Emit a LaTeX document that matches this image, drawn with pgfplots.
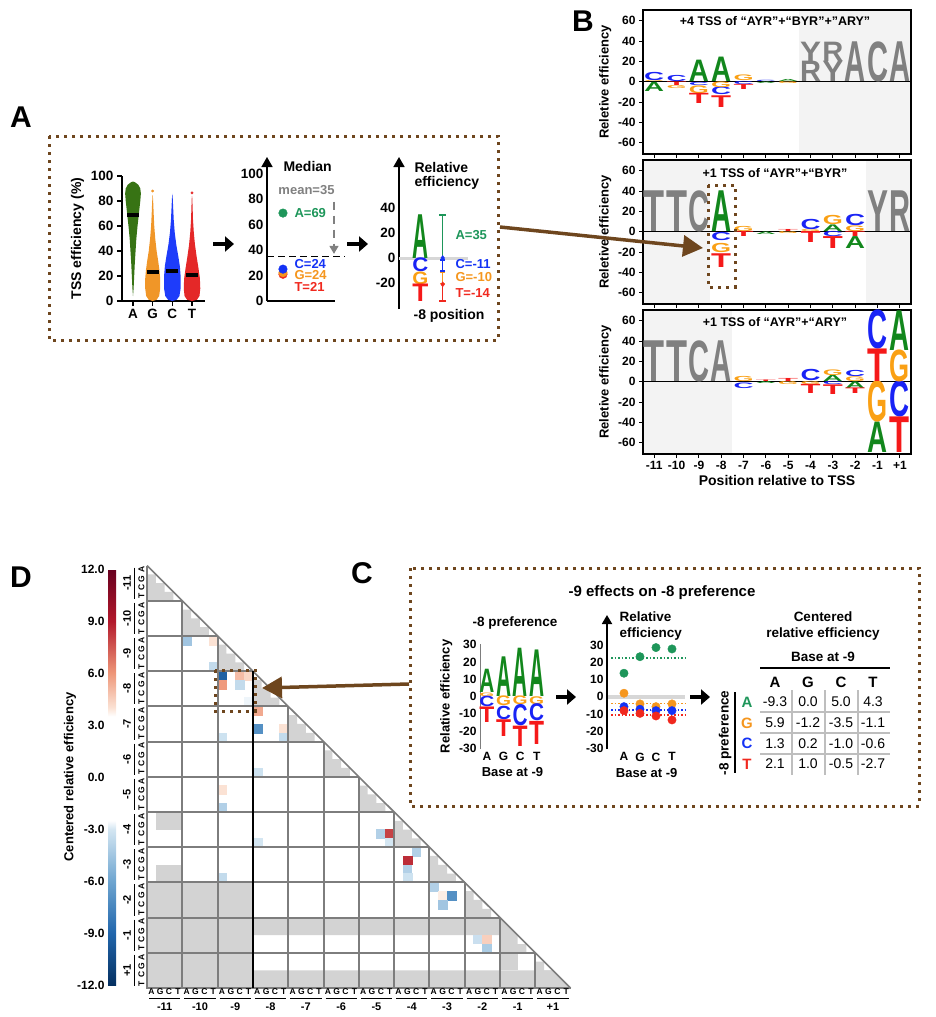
\documentclass[border=0pt]{standalone}
\usepackage{pgfplots}
\pgfplotsset{compat=1.18}
\usepackage{graphicx}
\usepackage{fontspec}
\setmainfont{Liberation Sans}
\usetikzlibrary{arrows.meta}

\definecolor{lgA}{RGB}{18,135,28}
\definecolor{lgG}{RGB}{250,160,20}
\definecolor{lgC}{RGB}{25,35,245}
\definecolor{lgT}{RGB}{245,25,25}
\definecolor{lgN}{RGB}{128,128,128}
\definecolor{vA}{RGB}{55,115,20}
\definecolor{vG}{RGB}{240,150,40}
\definecolor{vC}{RGB}{30,60,250}
\definecolor{vT}{RGB}{228,40,40}
\definecolor{dA}{RGB}{30,150,90}
\definecolor{dG}{RGB}{245,150,30}
\definecolor{dC}{RGB}{20,50,245}
\definecolor{dT}{RGB}{240,40,30}
\definecolor{brn}{RGB}{110,70,30}
\definecolor{shade}{RGB}{243,243,243}
\definecolor{hmgray}{RGB}{211,211,211}
\definecolor{gridg}{RGB}{125,125,125}
\definecolor{zl}{RGB}{215,215,215}
\definecolor{tabg}{RGB}{190,190,190}

\newcommand{\fs}[1]{\fontsize{#1}{#1}\selectfont}

\pgfplotsset{
  every axis/.append style={scale only axis, anchor=south west,
    tick label style={font=\bfseries\fs{12}},
    label style={font=\bfseries\fs{13}},
    /pgf/number format/assume math mode=true},
  % one sequence-logo letter per row: x, bottom y, height h
  logo/.style n args={4}{scatter, only marks, mark=*, mark size=0pt,
    visualization depends on={#3*\thisrow{h}\as\hpt},
    scatter/@pre marker code/.code={%
      \node[inner sep=0pt,outer sep=0pt,anchor=south,text=#1] at (0pt,0pt)
        {\resizebox{#4}{\hpt pt}{\bfseries #2}};%
      \scope[opacity=0]},
    scatter/@post marker code/.code={\endscope}},
  bpanel/.style={width=268pt, height=144pt, xmin=-0.5, xmax=11.5, ymin=-71, ymax=70.5,
    axis on top, axis line style={line width=1.4pt}, xtick={0,...,11}, ytick={-60,-40,...,60},
    tick pos=left, tick align=outside, tick style={black, line width=1pt},
    major tick length=4pt, ylabel={Reletive efficiency}},
}
\tikzset{brbox/.style={brn, line width=3pt, dash pattern=on 3pt off 5pt}}

\begin{document}
\begin{tikzpicture}
\useasboundingbox (0pt,0pt) rectangle (935pt,-1017pt);

% ================= A: violins
\begin{axis}[at={(122pt,-301pt)}, width=83pt, height=125pt,
  xmin=0.44, xmax=4.66, ymin=0, ymax=100,
  axis x line=bottom, axis y line=left, axis line style={-, line width=1.6pt},
  xtick={1,2,3,4}, xticklabels={A,G,C,T}, ytick={0,20,...,100},
  tick align=outside, tick style={black, line width=1.6pt}, major tick length=5pt,
  tick label style={font=\bfseries\fs{13.5}},
  ylabel={TSS efficiency (\%)}, label style={font=\bfseries\fs{14}}, clip=false]
\addplot[fill=vA, draw=none] coordinates {(1,4) (1.03,10) (1.06,20) (1.09,30) (1.13,40) (1.17,50) (1.23,60) (1.30,70) (1.37,80) (1.40,86) (1.37,90) (1.27,93) (1.10,95) (1,95.6) (0.90,95) (0.73,93) (0.63,90) (0.60,86) (0.63,80) (0.70,70) (0.77,60) (0.83,50) (0.87,40) (0.91,30) (0.94,20) (0.97,10)} -- cycle;
\addplot[fill=vG, draw=none] coordinates {(2,0) (2.2,1) (2.33,4) (2.38,10) (2.38,18) (2.34,25) (2.28,32) (2.2,40) (2.13,50) (2.08,60) (2.05,70) (2.03,78) (2.01,84) (2,85) (1.99,84) (1.97,78) (1.95,70) (1.92,60) (1.87,50) (1.8,40) (1.72,32) (1.66,25) (1.62,18) (1.62,10) (1.67,4) (1.8,1)} -- cycle;
\addplot[fill=vC, draw=none] coordinates {(3,0) (3.22,1) (3.36,4) (3.42,10) (3.42,20) (3.38,28) (3.3,36) (3.2,45) (3.12,55) (3.07,65) (3.04,75) (3.02,82) (3,86) (2.98,82) (2.96,75) (2.93,65) (2.88,55) (2.8,45) (2.7,36) (2.62,28) (2.58,20) (2.58,10) (2.64,4) (2.78,1)} -- cycle;
\addplot[fill=vT, draw=none] coordinates {(4,0) (4.25,1) (4.38,4) (4.42,10) (4.4,18) (4.33,26) (4.24,35) (4.15,45) (4.09,55) (4.05,65) (4.03,75) (4.015,82) (4,84) (3.985,82) (3.97,75) (3.95,65) (3.91,55) (3.85,45) (3.76,35) (3.67,26) (3.6,18) (3.58,10) (3.62,4) (3.75,1)} -- cycle;
\addplot[only marks, mark=*, mark size=1.2pt, vG] coordinates {(2,88)};
\addplot[only marks, mark=*, mark size=1.2pt, vT] coordinates {(4,86.5)};
\addplot[black, line width=4pt] coordinates {(0.69,69) (1.31,69)};
\addplot[black, line width=4pt] coordinates {(1.69,23.5) (2.31,23.5)};
\addplot[black, line width=4pt] coordinates {(2.69,24.3) (3.31,24.3)};
\addplot[black, line width=4pt] coordinates {(3.69,21) (4.31,21)};
\end{axis}

% ================= A: medians
\begin{axis}[at={(267pt,-301pt)}, width=68pt, height=144pt,
  xmin=0, xmax=1, ymin=0, ymax=113,
  axis x line=bottom, axis y line=left, x axis line style={-, line width=1.6pt},
  y axis line style={line width=1.6pt, -{Triangle[length=10pt,width=11pt]}},
  xtick=\empty, ytick={0,20,...,100}, major tick length=0pt,
  tick label style={font=\bfseries\fs{13.5}}, clip=false]
\addplot[black, line width=1.3pt, dash pattern=on 7pt off 4pt] coordinates {(0,35) (1.15,35)};
\addplot[lgN, line width=1.5pt, dash pattern=on 8pt off 6pt, -{Triangle[length=8pt,width=9pt]}] coordinates {(0.985,78) (0.985,37)};
\addplot[only marks, mark=*, mark size=4.3pt, dA] coordinates {(0.235,69)};
\addplot[only marks, mark=*, mark size=4.3pt, dT] coordinates {(0.235,21)};
\addplot[only marks, mark=*, mark size=4.3pt, dG] coordinates {(0.235,22.3)};
\addplot[only marks, mark=*, mark size=4.3pt, dC] coordinates {(0.235,25)};
\end{axis}

% ================= A: relative efficiency
\begin{axis}[at={(399pt,-309pt)}, width=70pt, height=152pt,
  xmin=0, xmax=1, ymin=-40.8, ymax=80.8,
  axis x line=none, axis y line=left,
  y axis line style={line width=1.6pt, -{Triangle[length=10pt,width=11pt]}},
  ytick={-20,0,20,40}, major tick length=0pt,
  tick label style={font=\bfseries\fs{13.5}}, clip=false]
\addplot[zl, line width=3pt] coordinates {(0,0) (0.99,0)};
\addplot[logo={lgA}{A}{1.25}{16pt}] table[row sep=\\]{x y h\\ 0.307 0 35\\};
\addplot[logo={lgC}{C}{1.25}{16pt}] table[row sep=\\]{x y h\\ 0.307 -11 11\\};
\addplot[logo={lgG}{G}{1.25}{16pt}] table[row sep=\\]{x y h\\ 0.307 -21 10\\};
\addplot[logo={lgT}{T}{1.25}{16pt}] table[row sep=\\]{x y h\\ 0.307 -35 14\\};
\addplot[dA, line width=1.3pt, -{Bar[width=7pt]}] coordinates {(0.624,0) (0.624,35)};
\addplot[dC, line width=1.3pt, {Bar[width=5pt]}-{Bar[width=5pt]}] coordinates {(0.624,-1) (0.624,-11)};
\addplot[dG, line width=1.3pt, {Bar[width=5pt]}-{Bar[width=5pt]}] coordinates {(0.624,-11) (0.624,-21)};
\addplot[dT, line width=1.3pt, -{Bar[width=7pt]}] coordinates {(0.624,-21) (0.624,-35)};
\addplot[only marks, mark=diamond*, mark size=2.5pt, dC] coordinates {(0.624,0)};
\addplot[only marks, mark=diamond*, mark size=2.5pt, dT] coordinates {(0.624,-21)};
\end{axis}

% ================= B panels
\begin{axis}[bpanel, at={(643pt,-154pt)}, xticklabels={}]
\addplot[fill=shade, draw=none] coordinates {(6.5,-71) (11.5,-71) (11.5,70.5) (6.5,70.5)} -- cycle;
\addplot[black, line width=1pt] coordinates {(-0.5,0) (11.5,0)};
\addplot[logo={lgN}{Y}{1.0177}{21pt}] table[row sep=\\]{x y h\\ 7 20 19\\ 8 0 20\\};
\addplot[logo={lgN}{R}{1.0177}{21pt}] table[row sep=\\]{x y h\\ 7 0 20\\ 8 20 19\\};
\addplot[logo={lgN}{A}{1.0177}{21pt}] table[row sep=\\]{x y h\\ 9 0 39\\ 11 0 39\\};
\addplot[logo={lgN}{C}{1.0177}{21pt}] table[row sep=\\]{x y h\\ 10 0 39\\};
\addplot[logo={lgA}{A}{1.0177}{20pt}] table[row sep=\\]{x y h\\ 0 -10 9\\ 2 0 21\\ 3 0 24\\ 6 0 2\\ 5 -1.5 1.5\\};
\addplot[logo={lgC}{C}{1.0177}{20pt}] table[row sep=\\]{x y h\\ 0 1 8\\ 1 0 6\\ 2 -4 3\\ 3 -13 7.5\\ 4 -3 3\\ 5 0 1.2\\};
\addplot[logo={lgG}{G}{1.0177}{20pt}] table[row sep=\\]{x y h\\ 0 0 1\\ 1 -6.5 3\\ 2 -11.5 7.5\\ 3 -5.5 5.5\\ 4 1 5.5\\ 6 -2 2\\};
\addplot[logo={lgT}{T}{1.0177}{20pt}] table[row sep=\\]{x y h\\ 1 -3.5 3.5\\ 2 -21.5 10\\ 3 -25 11.5\\ 4 -8 5\\};
\end{axis}

\begin{axis}[bpanel, at={(643pt,-304pt)}, xticklabels={}]
\addplot[fill=shade, draw=none] coordinates {(-0.5,-71) (2.5,-71) (2.5,70.5) (-0.5,70.5)} -- cycle;
\addplot[fill=shade, draw=none] coordinates {(9.5,-71) (11.5,-71) (11.5,70.5) (9.5,70.5)} -- cycle;
\addplot[black, line width=1pt] coordinates {(-0.5,0) (11.5,0)};
\addplot[logo={lgN}{T}{1.0177}{21pt}] table[row sep=\\]{x y h\\ 0 0 40\\ 1 0 40\\};
\addplot[logo={lgN}{C}{1.0177}{21pt}] table[row sep=\\]{x y h\\ 2 0 40\\};
\addplot[logo={lgN}{Y}{1.0177}{21pt}] table[row sep=\\]{x y h\\ 10 0 40\\};
\addplot[logo={lgN}{R}{1.0177}{21pt}] table[row sep=\\]{x y h\\ 11 0 40\\};
\addplot[logo={lgA}{A}{1.0177}{20pt}] table[row sep=\\]{x y h\\ 3 0 40\\ 5 -2.5 2.5\\ 8 0.5 6.5\\ 9 -16.7 11.7\\};
\addplot[logo={lgC}{C}{1.0177}{20pt}] table[row sep=\\]{x y h\\ 3 -9 8\\ 7 2 10\\ 8 -5 5\\ 9 6 11\\};
\addplot[logo={lgG}{G}{1.0177}{20pt}] table[row sep=\\]{x y h\\ 3 -20.6 9\\ 4 0.6 5\\ 6 -2 2\\ 7 0 2\\ 8 7 9\\ 9 0.5 5.5\\};
\addplot[logo={lgT}{T}{1.0177}{20pt}] table[row sep=\\]{x y h\\ 3 -35 13.5\\ 4 -5 5\\ 6 0 2\\ 7 -10.8 10.8\\ 8 -16.7 11.7\\ 9 -5 5\\};
\end{axis}

\begin{axis}[bpanel, at={(643pt,-454pt)},
  xticklabels={-11,-10,-9,-8,-7,-6,-5,-4,-3,-2,-1,+1},
  xlabel={Position relative to TSS}, xlabel style={font=\bfseries\fs{14}, yshift=2pt}]
\addplot[fill=shade, draw=none] coordinates {(-0.5,-71) (3.5,-71) (3.5,70.5) (-0.5,70.5)} -- cycle;
\addplot[black, line width=1pt] coordinates {(-0.5,0) (11.5,0)};
\addplot[logo={lgN}{T}{1.0177}{21pt}] table[row sep=\\]{x y h\\ 0 0 40\\ 1 0 40\\};
\addplot[logo={lgN}{C}{1.0177}{21pt}] table[row sep=\\]{x y h\\ 2 0 40\\};
\addplot[logo={lgN}{A}{1.0177}{21pt}] table[row sep=\\]{x y h\\ 3 0 40\\};
\addplot[logo={lgA}{A}{1.0177}{20pt}] table[row sep=\\]{x y h\\ 5 -2 2\\ 8 0.6 6\\ 9 -6.5 6.5\\ 10 -70 30\\ 11 31 39\\};
\addplot[logo={lgC}{C}{1.0177}{20pt}] table[row sep=\\]{x y h\\ 4 -6.5 5.5\\ 7 0.6 11\\ 8 -3 3\\ 9 5.5 6\\ 10 32 38\\ 11 -35 35\\};
\addplot[logo={lgG}{G}{1.0177}{20pt}] table[row sep=\\]{x y h\\ 4 0.3 5\\ 6 -3 3\\ 7 -3 3\\ 8 6.5 5.5\\ 9 0.6 4.6\\ 10 -40 40\\ 11 0 31\\};
\addplot[logo={lgT}{T}{1.0177}{20pt}] table[row sep=\\]{x y h\\ 5 0 1.5\\ 6 0 3\\ 7 -12 9\\ 8 -13 9.5\\ 9 -12 5.5\\ 10 0 32\\ 11 -70 35\\};
\end{axis}

% ================= C: -8 preference logo
\begin{axis}[at={(480pt,-749pt)}, width=65pt, height=105.2pt,
  xmin=0.58, xmax=4.5, ymin=-30.5, ymax=30.5,
  axis x line=bottom, axis y line=left, x axis line style={draw=none},
  y axis line style={-, gridg, line width=1pt},
  xtick={1,2,3,4}, xticklabels={A,G,C,T}, ytick={-30,-20,...,30}, major tick length=0pt,
  xlabel={Base at -9}, ylabel={Relative efficiency}, clip=false]
\addplot[logo={lgA}{A}{1.7246}{15pt}] table[row sep=\\]{x y h\\ 1 2 13.5\\ 2 0 23\\ 3 0 28\\ 4 0 27\\};
\addplot[logo={lgG}{G}{1.7246}{15pt}] table[row sep=\\]{x y h\\ 1 0 2\\ 2 -5.6 5.6\\ 3 -5 5\\ 4 -4.5 4.5\\};
\addplot[logo={lgC}{C}{1.7246}{15pt}] table[row sep=\\]{x y h\\ 1 -6 6\\ 2 -13.3 7.7\\ 3 -17.2 12.2\\ 4 -14.3 9.8\\};
\addplot[logo={lgT}{T}{1.7246}{15pt}] table[row sep=\\]{x y h\\ 1 -15 9\\ 2 -23 9.7\\ 3 -29 11.8\\ 4 -27.7 13.4\\};
\end{axis}

% ================= C: dots by base at -9
\begin{axis}[at={(607pt,-749.2pt)}, width=79.4pt, height=134.2pt,
  xmin=-0.06, xmax=4.9, ymin=-30.5, ymax=47.4,
  axis x line=bottom, axis y line=left, x axis line style={draw=none},
  y axis line style={line width=1.8pt, -{Triangle[length=9pt,width=10pt]}},
  xtick={1,2,3,4}, xticklabels={A,G,C,T}, ytick={-30,-20,...,30}, major tick length=0pt,
  xlabel={Base at -9}, clip=false]
\addplot[zl, line width=4pt] coordinates {(0,0) (4.8,0)};
\addplot[dA, line width=1.5pt, dash pattern=on 1.5pt off 2pt] coordinates {(0.2,22.5) (4.9,22.5)};
\addplot[dG, line width=1.5pt, dash pattern=on 1.5pt off 2pt] coordinates {(0.2,-3.9) (4.9,-3.9)};
\addplot[dC, line width=1.5pt, dash pattern=on 1.5pt off 2pt] coordinates {(0.2,-7.7) (4.9,-7.7)};
\addplot[dT, line width=1.5pt, dash pattern=on 1.5pt off 2pt] coordinates {(0.2,-10.6) (4.9,-10.6)};
\addplot[only marks, mark=*, mark size=4.2pt, dA] coordinates {(1,13.6) (2,23.2) (3,28.5) (4,27.7)};
\addplot[only marks, mark=*, mark size=4.2pt, dG] coordinates {(1,2.0) (2,-4.2) (3,-5.8) (4,-4.2)};
\addplot[only marks, mark=*, mark size=4.2pt, dC] coordinates {(1,-5.8) (2,-7.3) (3,-8.1) (4,-8.1)};
\addplot[only marks, mark=*, mark size=4.2pt, dT] coordinates {(1,-8.1) (2,-9.7) (3,-11.2) (4,-13.5)};
\end{axis}

% ================= D: heatmap
\begin{axis}[at={(147pt,-988pt)}, width=423.6pt, height=422.5pt,
  xmin=0, xmax=48, ymin=0, ymax=48, y dir=reverse,
  axis line style={draw=none}, xtick=\empty, ytick=\empty,
  colormap={rdbu}{rgb255(0pt)=(5,48,97); rgb255(6pt)=(33,102,172); rgb255(12pt)=(110,165,208); rgb255(18pt)=(212,230,242); rgb255(19pt)=(255,255,255); rgb255(31pt)=(255,255,255); rgb255(32pt)=(251,226,212); rgb255(36pt)=(238,150,120); rgb255(42pt)=(178,24,43); rgb255(48pt)=(103,0,31)},
  point meta min=-12, point meta max=12,
  colorbar, colorbar shift/.style={xshift=-31pt, yshift=3pt},
  colorbar style={at={(parent axis.south west)}, anchor=south east,
    width=8pt, height=416pt, ytick={-12,-9,...,12}, yticklabel pos=left,
    yticklabel style={font=\bfseries\fs{12}, /pgf/number format/fixed,
      /pgf/number format/fixed zerofill, /pgf/number format/precision=1,
      /pgf/number format/assume math mode=true},
    major tick length=0pt, axis line style={draw=none}}]
\addplot[fill=hmgray, draw=none] coordinates {(0,36) (12,36) (12,48) (0,48)} -- cycle;
\addplot[fill=hmgray, draw=none] coordinates {(12,40) (40,40) (42,42) (12,42)} -- cycle;
\addplot[fill=hmgray, draw=none] coordinates {(12,46) (46,46) (48,48) (12,48)} -- cycle;
\addplot[fill=hmgray, draw=none] coordinates {(40,44) (42,44) (42,46) (40,46)} -- cycle;
\addplot[fill=hmgray, draw=none] coordinates {(1,28) (4,28) (4,30) (1,30)} -- cycle;
\addplot[fill=hmgray, draw=none] coordinates {(1,34) (4,34) (4,36) (1,36)} -- cycle;
\addplot[fill=hmgray, draw=none] coordinates {(0,1) (1,1) (1,2) (2,2) (2,3) (3,3) (3,4) (0,4)} -- cycle;
\addplot[fill=hmgray, draw=none] coordinates {(4,5) (5,5) (5,6) (6,6) (6,7) (7,7) (7,8) (4,8)} -- cycle;
\addplot[fill=hmgray, draw=none] coordinates {(8,9) (9,9) (9,10) (10,10) (10,11) (11,11) (11,12) (8,12)} -- cycle;
\addplot[fill=hmgray, draw=none] coordinates {(12,13) (13,13) (13,14) (14,14) (14,15) (15,15) (15,16) (12,16)} -- cycle;
\addplot[fill=hmgray, draw=none] coordinates {(16,17) (17,17) (17,18) (18,18) (18,19) (19,19) (19,20) (16,20)} -- cycle;
\addplot[fill=hmgray, draw=none] coordinates {(20,21) (21,21) (21,22) (22,22) (22,23) (23,23) (23,24) (20,24)} -- cycle;
\addplot[fill=hmgray, draw=none] coordinates {(24,25) (25,25) (25,26) (26,26) (26,27) (27,27) (27,28) (24,28)} -- cycle;
\addplot[fill=hmgray, draw=none] coordinates {(28,29) (29,29) (29,30) (30,30) (30,31) (31,31) (31,32) (28,32)} -- cycle;
\addplot[fill=hmgray, draw=none] coordinates {(32,33) (33,33) (33,34) (34,34) (34,35) (35,35) (35,36) (32,36)} -- cycle;
\addplot[fill=hmgray, draw=none] coordinates {(36,37) (37,37) (37,38) (38,38) (38,39) (39,39) (39,40) (36,40)} -- cycle;
\addplot[fill=hmgray, draw=none] coordinates {(40,41) (41,41) (41,42) (42,42) (42,43) (43,43) (43,44) (40,44)} -- cycle;
\addplot[fill=hmgray, draw=none] coordinates {(44,45) (45,45) (45,46) (46,46) (46,47) (47,47) (47,48) (44,48)} -- cycle;
\addplot[scatter, only marks, mark=square*, mark size=4.41pt, point meta=explicit,
  scatter/use mapped color={draw=mapped color, fill=mapped color}]
  table[row sep=\\, meta=v]{x y v\\
  4.5 8.5 -4.5\\ 7.5 8.5 4\\ 7.5 11.5 -3.5\\
  8.5 12.5 -9.3\\ 10.5 12.5 5.0\\ 11.5 12.5 4.3\\ 8.5 13.5 5.9\\ 10.5 13.5 -3.5\\ 11.5 15.5 -2.7\\
  12.5 16.5 5.5\\ 12.5 18.5 -7\\ 15.5 18.5 4\\ 15.5 19.5 -3.5\\ 8.5 19.5 -3.2\\
  12.5 23.5 -3.2\\ 8.5 25.5 4\\ 8.5 27.5 -4\\
  26.5 30.5 -4\\ 27.5 30.5 8\\ 27.5 31.5 -3\\ 12.5 31.5 -3\\
  30.5 32.5 -4\\ 29.5 33.5 8.5\\ 29.5 34.5 -4\\ 30.5 34.5 3.5\\ 29.5 35.5 -3.2\\ 8.5 35.5 -3.5\\
  32.5 36.5 -4\\ 33.5 37.5 3.8\\ 34.5 37.5 -7\\ 33.5 38.5 -4.5\\
  37.5 42.5 -3.3\\ 38.5 42.5 4.5\\ 37.5 43.5 3.4\\ 38.5 43.5 -4.2\\
  };
\end{axis}

% ================= annotations
\begin{scope}[x=1pt, y=-1pt]
% panel letters
\node[font=\bfseries\fs{30}] at (21,117) {A};
\node[font=\bfseries\fs{30}] at (583,21) {B};
\node[font=\bfseries\fs{30}] at (362,573) {C};
\node[font=\bfseries\fs{30}] at (21,577) {D};

% A box
\draw[brbox] (49,136) rectangle (498,340);
\draw[line width=4.5pt, -{Triangle[length=9pt,width=15pt]}] (213,244) -- (234,244);
\draw[line width=4.5pt, -{Triangle[length=9pt,width=15pt]}] (347,244) -- (368,244);
\node[font=\bfseries\fs{14}, anchor=west] at (280,166) {Median};
\node[font=\bfseries\fs{13}, text=lgN] at (306.5,190) {mean=35};
\node[font=\bfseries\fs{13}, text=dA, anchor=west] at (291,213) {A=69};
\node[font=\bfseries\fs{13}, text=dC, anchor=west] at (291,264) {C=24};
\node[font=\bfseries\fs{13}, text=dG, anchor=west] at (291,275.5) {G=24};
\node[font=\bfseries\fs{13}, text=dT, anchor=west] at (291,287) {T=21};
\node[font=\bfseries\fs{14}, anchor=west] at (411,167) {Relative};
\node[font=\bfseries\fs{14}, anchor=west] at (411,183) {efficiency};
\node[font=\bfseries\fs{13}, text=dA, anchor=west] at (452,235) {A=35};
\node[font=\bfseries\fs{13}, text=dC, anchor=west] at (452,264) {C=-11};
\node[font=\bfseries\fs{13}, text=dG, anchor=west] at (452,277) {G=-10};
\node[font=\bfseries\fs{13}, text=dT, anchor=west] at (452,293) {T=-14};
\node[font=\bfseries\fs{14}] at (449,316) {-8 position};

% B titles and box
\node[font=\bfseries\fs{12.5}] at (775,21) {+4 TSS of “AYR”+“BYR”+”ARY”};
\node[font=\bfseries\fs{12.5}] at (775,173) {+1 TSS of “AYR”+“BYR”};
\node[font=\bfseries\fs{12.5}] at (775,322) {+1 TSS of “AYR”+“ARY”};
\draw[brbox] (708,185) rectangle (735,287);
\draw[brn, line width=3.5pt, -{Triangle[length=20pt,width=21pt]}] (500,227) -- (703,248);

% C box
\draw[brbox] (410,568) rectangle (919,806);
\node[font=\bfseries\fs{15}] at (662,593) {-9 effects on -8 preference};
\node[font=\bfseries\fs{13.5}] at (515,623) {-8 preference};
\node[font=\bfseries\fs{13.5}, anchor=west] at (616,617) {Relative};
\node[font=\bfseries\fs{13.5}, anchor=west] at (616,634) {efficiency};
\draw[line width=4.5pt, -{Triangle[length=9pt,width=15pt]}] (556,697) -- (576,697);
\draw[line width=4.5pt, -{Triangle[length=9pt,width=15pt]}] (690,697) -- (710,697);
\node[font=\bfseries\fs{13.5}] at (823,617) {Centered};
\node[font=\bfseries\fs{13.5}] at (823,634) {relative efficiency};
\node[font=\bfseries\fs{13.5}] at (823,657) {Base at -9};
\draw[black, line width=2pt] (760,668) -- (890,668);
\foreach \x in {791.7,825,858.3} \draw[tabg, line width=2pt] (\x,690) -- (\x,775);
\foreach \y in {712,733,753.5} \draw[tabg, line width=2pt] (760,\y) -- (890,\y);
\foreach \b/\x in {A/775,G/808,C/841,T/873} \node[font=\bfseries\fs{15}] at (\x,682) {\b};
\foreach \b/\c/\y in {A/dA/702,G/dG/723,C/dC/743,T/dT/764}
  \node[font=\bfseries\fs{15}, text=\c] at (747,\y) {\b};
\draw[black, line width=2pt] (735,692) -- (735,773);
\node[font=\bfseries\fs{13.5}, rotate=90] at (725,733) {-8 preference};
\foreach \a/\bb/\cc/\dd [count=\r from 0] in {-9.3/0.0/5.0/4.3, 5.9/-1.2/-3.5/-1.1, 1.3/0.2/-1.0/-0.6, 2.1/1.0/-0.5/-2.7} {
  \node[font=\fs{14}] at (775,702+\r*20.7) {\a};
  \node[font=\fs{14}] at (808,702+\r*20.7) {\bb};
  \node[font=\fs{14}] at (841,702+\r*20.7) {\cc};
  \node[font=\fs{14}] at (873,702+\r*20.7) {\dd};
}

% D grid, labels, box
\foreach \k in {1,...,12} \draw[gridg, line width=2pt] (146,565.5+\k*35.2) -- (147+\k*35.3,565.5+\k*35.2);
\foreach \k in {0,...,11} \draw[gridg, line width=2pt] (147+\k*35.3,565.5+\k*35.2) -- (147+\k*35.3,989);
\draw[gridg, line width=1.6pt] (147,565.5) -- (570.6,988);
\draw[black, line width=2.6pt] (252.9,671.1) -- (252.9,988);
\draw[brbox] (215,670) rectangle (255,711);
\draw[brn, line width=3.5pt, -{Triangle[length=20pt,width=21pt]}] (409,684) -- (262,688);
\node[font=\bfseries\fs{13}, rotate=90] at (70,777) {Centered relative efficiency};
\foreach \p [count=\k from 0] in {-11,-10,-9,-8,-7,-6,-5,-4,-3,-2,-1,+1} {
  \node[font=\bfseries\fs{11}, rotate=90] at (127,565.5+\k*35.2+17.6) {\p};
  \draw[black, line width=0.9pt] (134.5,565.5+\k*35.2+2) -- (134.5,565.5+\k*35.2+33.2);
  \foreach \b [count=\i from 0] in {A,G,C,T} {
    \node[font=\bfseries\fs{8.5}, rotate=90] at (141.5,565.5+\k*35.2+\i*8.8+4.4) {\b};
    \node[font=\bfseries\fs{8.5}] at (147+\k*35.3+\i*8.825+4.41,992) {\b};
  }
  \draw[black, line width=0.9pt] (147+\k*35.3+2,998) -- (147+\k*35.3+33.3,998);
  \node[font=\bfseries\fs{11}] at (147+\k*35.3+17.65,1007) {\p};
}
\end{scope}
\end{tikzpicture}
\end{document}
